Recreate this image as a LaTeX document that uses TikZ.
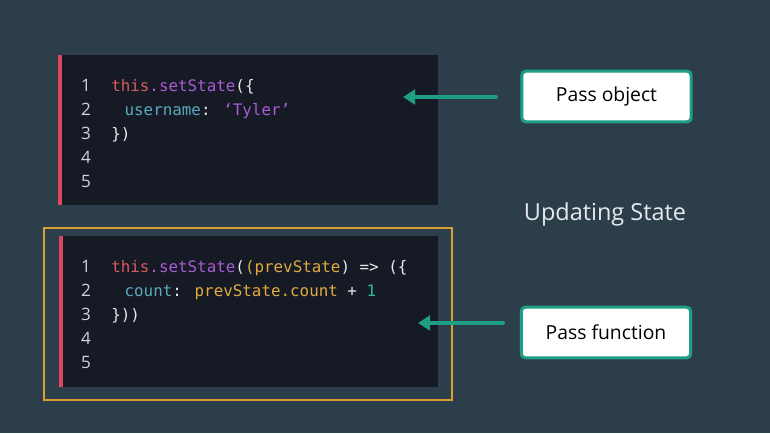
\documentclass[tikz,border=0pt]{standalone}
\usepackage{fontspec}
\setmainfont{Open Sans}
\newfontfamily\codefont{DejaVu Sans Mono}
\newfontfamily\handfont{Open Sans}
\usetikzlibrary{arrows.meta}
\definecolor{bg}{HTML}{2D3E4B}
\definecolor{codebg}{HTML}{151A24}
\definecolor{redbar}{HTML}{D9485F}
\definecolor{frameyel}{HTML}{D9A030}
\definecolor{teal}{HTML}{1E9E85}
\definecolor{cthis}{HTML}{D65A5E}
\definecolor{cpurple}{HTML}{A85CD6}
\definecolor{cblue}{HTML}{5BA9BE}
\definecolor{corange}{HTML}{E2A93E}
\definecolor{cnum}{HTML}{2DB8A2}
\definecolor{cwhite}{HTML}{E6E9EE}
\definecolor{lnum}{HTML}{D0D6DD}
\tikzset{
  px/.style={x=0.75pt,y=-0.75pt},
  lineno/.style={anchor=base,text=lnum,font=\fontsize{12.8}{14}\selectfont,inner sep=0pt},
  codeline/.style={anchor=base west,font=\codefont\fontsize{11.9}{14}\selectfont,inner sep=0pt,text=cwhite},
  lbl/.style={draw=teal,line width=2.3pt,fill=white,rounded corners=3pt,minimum width=127pt,minimum height=38pt,font=\handfont\fontsize{14.5}{16}\selectfont,text=black},
  pointer/.style={draw=teal,line width=3pt,line cap=round,-{Triangle[length=9pt,width=11pt]}},
}
\begin{document}
\begin{tikzpicture}[px]
\fill[bg] (0,0) rectangle (770,433);
\useasboundingbox (0,0) rectangle (770,433);
% top code box
\fill[codebg] (58,55) rectangle (438,205);
\fill[redbar] (58,55) rectangle (62,205);
\node[lineno] (a1) at (86,91) {1};
\node[lineno] (a2) at (86,115) {2};
\node[lineno] (a3) at (86,139) {3};
\node[lineno] (a4) at (86,163) {4};
\node[lineno] (a5) at (86,187) {5};
\node[codeline] (t1) at (111,91) {\textcolor{cthis}{this}\textcolor{cpurple}{.setState}(\{};
\node[codeline] (t2) at (111,115) {\hspace{10pt}\textcolor{cblue}{username}: \textcolor{cpurple}{‘Tyler’}};
\node[codeline] (t3) at (111,139) {\})};
% yellow frame and bottom code box
\draw[frameyel,line width=1.6pt] (44,228) rectangle (452,400);
\fill[codebg] (59,236) rectangle (438,387);
\fill[redbar] (59,236) rectangle (63,387);
\node[lineno] (b1) at (86,272) {1};
\node[lineno] (b2) at (86,296) {2};
\node[lineno] (b3) at (86,320) {3};
\node[lineno] (b4) at (86,344) {4};
\node[lineno] (b5) at (86,368) {5};
\node[codeline] (u1) at (111,272) {\textcolor{cthis}{this}\textcolor{cpurple}{.setState}(\textcolor{corange}{(prevState}) => (\{};
\node[codeline] (u2) at (111,296) {\hspace{10pt}\textcolor{cblue}{count}: \textcolor{corange}{prevState.count} + \textcolor{cnum}{1}};
\node[codeline] (u3) at (111,320) {\}))};
% labels
\node[lbl] (po) at (606.5,96.5) {Pass object};
\node[lbl] (pf) at (606,332.5) {Pass function};
\node[text=cwhite,font=\fontsize{17.6}{20}\selectfont] (us) at (605,214) {Updating State};
\coordinate (pa) at (403,97);
\coordinate (pb) at (418,323);
\draw[pointer] (496,97) -- (pa);
\draw[pointer] (503,323) -- (pb);
\end{tikzpicture}
\end{document}
